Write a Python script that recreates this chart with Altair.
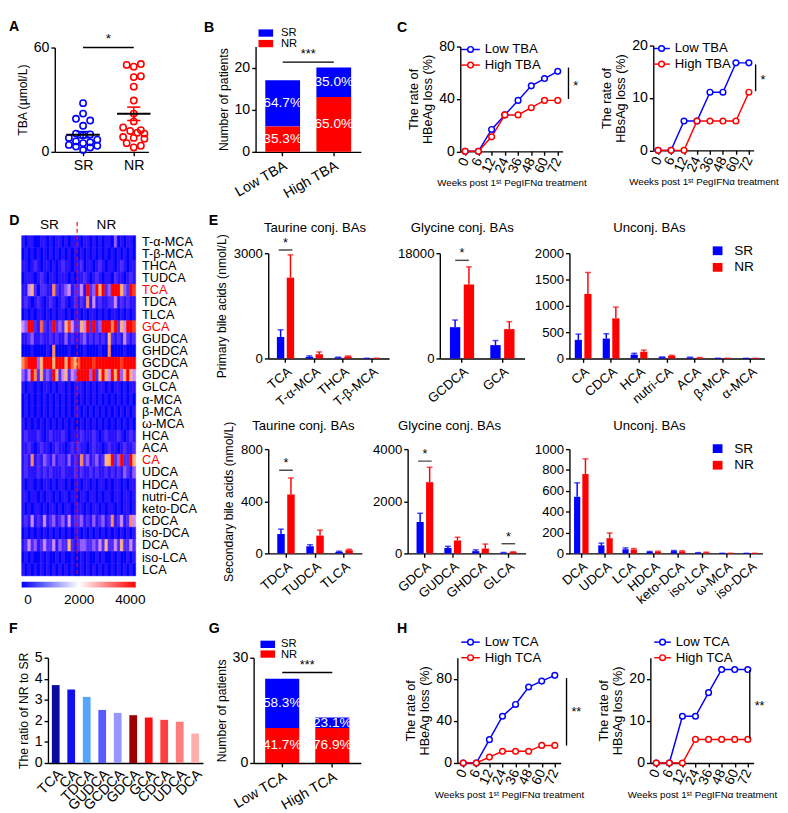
import altair as alt
import pandas as pd

FONT = "Liberation Sans, Arial, Helvetica, sans-serif"
BLUE = "#0000ff"
RED = "#ff0000"

# ======================= DATA =======================
# A: TBA per patient (µmol/L) and beeswarm slot
a_sr_values = [28, 22, 19, 18, 15, 10.5, 10, 9.5, 8, 7, 6, 5.5, 5, 4, 3.5, 3, 2.5, 1]
a_sr_slots = [0, 0, -1, 1, 0, -1, 1, 0, -2, 2, -1, 1, 0, -2, 2, -1, 1, 0]
a_nr_values = [50, 49, 50.5, 43, 43.5, 37.5, 29.5, 22, 17.5, 14, 12.5, 12, 11, 10.5, 8.5, 8, 7.5, 5, 3.5, 2.5]
a_nr_slots = [-1, 0, 1, 0, 1, 0, 0, 0, 0, -1.5, 1, -0.5, 0.5, 1.5, -1.5, 0, 1.5, -1, 1, 0]

# B: patients by TBA level
b_groups = ["Low TBA", "High TBA"]
b_sr = [11, 7]
b_nr = [6, 13]

# C / H: loss rates over weeks
weeks = ["0", "6", "12", "24", "36", "48", "60", "72"]
c_hbeag_low = [0, 0, 16.7, 27.8, 38.9, 50.0, 55.6, 61.1]
c_hbeag_high = [0, 0, 11.1, 27.8, 27.8, 33.3, 38.9, 38.9]
c_hbsag_low = [0, 0, 5.6, 5.6, 11.1, 11.1, 16.7, 16.7]
c_hbsag_high = [0, 0, 0, 5.6, 5.6, 5.6, 5.6, 11.1]
h_hbeag_low = [0, 0, 22.2, 44.4, 55.6, 72.2, 77.8, 83.3]
h_hbeag_high = [0, 0, 5.6, 11.1, 11.1, 11.1, 16.7, 16.7]
h_hbsag_low = [0, 0, 11.1, 11.1, 16.7, 22.2, 22.2, 22.2]
h_hbsag_high = [0, 0, 0, 5.6, 5.6, 5.6, 5.6, 5.6]

# D: heatmap (levels 0-9 per patient, 18 SR then 19 NR)
hm_rows = ["T-α-MCA", "T-β-MCA", "THCA", "TUDCA", "TCA", "TDCA", "TLCA", "GCA", "GUDCA",
           "GHDCA", "GCDCA", "GDCA", "GLCA", "α-MCA", "β-MCA", "ω-MCA", "HCA", "ACA", "CA",
           "UDCA", "HDCA", "nutri-CA", "keto-DCA", "CDCA", "iso-DCA", "DCA", "iso-LCA", "LCA"]
hm_sr = ["101100110101101011", "010101010101010101", "110121011010121101", "011101210110111010",
         "114520221162123412", "121012101210121012", "010101101010110101", "439921721292325842",
         "112311211212113121", "000100001060000100", "689993599959995975", "324962523295245243",
         "101101011010110101", "010101010101010101", "010101010101010101", "101010101010101010",
         "121112101211121011", "112101211012110121", "121612132131221312", "121112121211121112",
         "101101011010110101", "110110101101011011", "101011010110101101", "121412141231231412",
         "010101010101010101", "124231242241322521", "010100101001010010", "101010101010101010"]
hm_nr = ["1011010101103010110", "0101010101010101010", "1201101210110121011", "1121012101102110121",
         "2419239592399953298", "1216141211224121211", "1010110101011010101", "2549292399969254998",
         "1231212121521214212", "0010000100600001000", "7999989999999989999", "9999392595495935954",
         "1101010110101101011", "0101010101010101010", "1010101010101010101", "0101010101010101010",
         "1211121012111210121", "2110121101211012112", "1623123125592392295", "1211212112121213213",
         "1011010110101101011", "0110110101101101101", "1101011010110101101", "2312131231261241264",
         "1010101010101010101", "2332232425224252242", "0101001010010100101", "0101010101010101010"]
hm_level_values = [0, 100, 300, 800, 1300, 2000, 2600, 3100, 3600, 4000]
hm_red_labels = ["TCA", "GCA", "CA"]
cbar_ticks = [0, 2000, 4000]

# E: mean and SEM (nmol/L)
e1_cats = ["TCA", "T-α-MCA", "THCA", "T-β-MCA"]
e1_sr, e1_sr_sem = [613, 46, 28, 3], [204, 28, 9, 2]
e1_nr, e1_nr_sem = [2303, 121, 56, 5], [650, 65, 18, 2]
e2_cats = ["GCDCA", "GCA"]
e2_sr, e2_sr_sem = [5350, 2285], [1227, 780]
e2_nr, e2_nr_sem = [12653, 5016], [3010, 1282]
e3_cats = ["CA", "CDCA", "HCA", "nutri-CA", "ACA", "β-MCA", "α-MCA"]
e3_sr, e3_sr_sem = [354, 378, 73, 24, 18, 3, 2], [109, 92, 25, 6, 6, 1, 1]
e3_nr, e3_nr_sem = [1226, 762, 128, 49, 12, 3, 2], [408, 214, 31, 12, 6, 1, 1]
e4_cats = ["TDCA", "TUDCA", "TLCA"]
e4_sr, e4_sr_sem = [149, 55, 12], [37, 12, 5]
e4_nr, e4_nr_sem = [452, 137, 25], [127, 42, 7]
e5_cats = ["GDCA", "GUDCA", "GHDCA", "GLCA"]
e5_sr, e5_sr_sem = [1205, 211, 87, 25], [335, 62, 50, 12]
e5_nr, e5_nr_sem = [2733, 497, 186, 50], [571, 124, 174, 12]
e6_cats = ["DCA", "UDCA", "LCA", "HDCA", "keto-DCA", "iso-LCA", "ω-MCA", "iso-DCA"]
e6_sr, e6_sr_sem = [543, 78, 40, 16, 22, 6, 1, 1], [134, 21, 13, 3, 6, 2, 0.5, 0.5]
e6_nr, e6_nr_sem = [761, 146, 37, 16, 19, 9, 1, 1], [146, 50, 10, 6, 6, 3, 0.5, 0.5]

# F: ratio NR / SR
f_cats = ["TCA", "CA", "TDCA", "GUDCA", "GCDCA", "GDCA", "GCA", "CDCA", "UDCA", "DCA"]
f_vals = [3.70, 3.49, 3.14, 2.52, 2.38, 2.27, 2.16, 2.05, 1.96, 1.40]
f_colors = ["#0a0a9c", "#0f0ff0", "#55a5ff", "#5a5aff", "#9696ff",
            "#9a0000", "#ff1010", "#ff4040", "#ff7c7c", "#ffaeae"]

# G: patients by TCA level
g_groups = ["Low TCA", "High TCA"]
g_sr = [14, 3]
g_nr = [10, 10]

TICK = 14.5
TICK_C = 14
TICK_E = 13.5
TITLE = 12.5
LETTER = 14.5


# ======================= HELPERS =======================
def ann():
    return pd.DataFrame({"t": [""]})


def text_at(s, x, y, size=13, align="left", baseline="middle", color="black", weight="normal"):
    return alt.Chart(pd.DataFrame({"t": [s]})).mark_text(
        align=align, baseline=baseline, fontSize=size, font=FONT, color=color, fontWeight=weight
    ).encode(text="t:N", x=alt.value(x), y=alt.value(y))


def letter(s, x, y):
    return text_at(s, x, y, size=LETTER, baseline="top", weight="bold")


def square(x1, x2, y1, y2, color):
    return alt.Chart(ann()).mark_rect(color=color).encode(
        x=alt.value(x1), x2=alt.value(x2), y=alt.value(y1), y2=alt.value(y2))


def frame(ox, oy, ax1, ax2, ay1, ay2):
    # invisible cell that fixes the layout box of a panel (figure coords -> panel coords)
    return alt.Chart(ann()).mark_rect(opacity=0).encode(
        x=alt.value(ax1 - ox), x2=alt.value(ax2 - ox), y=alt.value(ay1 - oy), y2=alt.value(ay2 - oy))


def spacer():
    return alt.Chart(ann()).mark_rect(opacity=0).encode(
        x=alt.value(0), x2=alt.value(1), y=alt.value(0), y2=alt.value(1)).properties(width=1, height=1)


def wrap(p):
    return alt.vconcat(spacer(), p, spacing=0)


def line_key(x1, x2, y, color):
    r = square(x1, x2, y - 0.75, y + 0.75, color)
    w = alt.Chart(ann()).mark_point(shape="circle", filled=True, color="white", size=34, opacity=1).encode(
        x=alt.value((x1 + x2) / 2), y=alt.value(y))
    p = alt.Chart(ann()).mark_point(shape="circle", filled=False, color=color, size=34,
                                    strokeWidth=1.5, opacity=1).encode(
        x=alt.value((x1 + x2) / 2), y=alt.value(y))
    return [r, w, p]


# ======================= PANEL A =======================
A_OX, A_OY, A_W, A_H = 51, 30.7, 96, 107
a_df = pd.DataFrame({
    "gi": [0] * len(a_sr_values) + [1] * len(a_nr_values),
    "v": a_sr_values + a_nr_values,
    "slot": a_sr_slots + a_nr_slots,
    "col": [BLUE] * len(a_sr_values) + [RED] * len(a_nr_values),
})
a_xs = alt.Scale(domain=[-0.558, 1.288], nice=False, zero=False)
a_xa = alt.Axis(values=[0, 1], labelExpr="datum.value == 0 ? 'SR' : 'NR'", title=None,
                labelFontSize=TICK, labelPadding=3)
a_ys = alt.Scale(domain=[0, 60], nice=False)
a_ya = alt.Axis(values=[0, 20, 40, 60], title="TBA (µmol/L)", titleFontSize=TITLE, labelFontSize=TICK)
ab = alt.Chart(a_df)
a_pts = ab.transform_calculate(xp="datum.gi + datum.slot * 0.14").mark_point(
    shape="circle", filled=False, size=42, strokeWidth=1.6, opacity=1
).encode(x=alt.X("xp:Q", scale=a_xs, axis=a_xa), y=alt.Y("v:Q", scale=a_ys, axis=a_ya),
         color=alt.Color("col:N", scale=None))
a_st = ab.transform_aggregate(m="mean(v)", se="stderr(v)", groupby=["gi", "col"]).transform_calculate(
    xl="datum.gi - 0.33", xr="datum.gi + 0.33", cl="datum.gi - 0.13", cr="datum.gi + 0.13",
    lo="datum.m - datum.se", hi="datum.m + datum.se")
a_sem = a_st.mark_rule(strokeWidth=1.6).encode(
    x=alt.X("gi:Q", scale=a_xs, axis=a_xa), y=alt.Y("lo:Q", scale=a_ys, axis=a_ya), y2="hi:Q",
    color=alt.Color("col:N", scale=None))
a_cap_hi = a_st.mark_rule(strokeWidth=1.6).encode(
    x=alt.X("cl:Q", scale=a_xs, axis=a_xa), x2="cr:Q", y=alt.Y("hi:Q", scale=a_ys, axis=a_ya),
    color=alt.Color("col:N", scale=None))
a_cap_lo = a_st.mark_rule(strokeWidth=1.6).encode(
    x=alt.X("cl:Q", scale=a_xs, axis=a_xa), x2="cr:Q", y=alt.Y("lo:Q", scale=a_ys, axis=a_ya),
    color=alt.Color("col:N", scale=None))
a_mean = a_st.mark_rule(strokeWidth=2, color="black").encode(
    x=alt.X("xl:Q", scale=a_xs, axis=a_xa), x2="xr:Q", y=alt.Y("m:Q", scale=a_ys, axis=a_ya))
a_sig = alt.Chart(ann()).mark_rule(color="black", strokeWidth=1.4).encode(
    x=alt.datum(0), x2=alt.datum(1), y=alt.datum(60))
a_star = alt.Chart(pd.DataFrame({"t": ["*"]})).mark_text(fontSize=14, font=FONT, dy=-9).encode(
    x=alt.datum(0.5), y=alt.datum(60), text="t:N")
A = alt.layer(frame(A_OX, A_OY, 4, 200, 3, 196), a_pts, a_sem, a_cap_hi, a_cap_lo, a_mean, a_sig, a_star,
              letter("A", 4 - A_OX, 3 - A_OY)).properties(width=A_W, height=A_H)


# ======================= STACKED (B, G) =======================
def stack_panel(groups, sr, nr, ydom, yvals, ox, oy, W, H, sig_y, po, let, fx, fy, key_x, key_y, key_tx):
    df = pd.DataFrame({"cond": groups + groups, "grp": ["SR", "SR", "NR", "NR"],
                       "n": sr + nr, "col": [BLUE, BLUE, RED, RED]})
    base = alt.Chart(df).transform_joinaggregate(total="sum(n)", groupby=["cond"]).transform_calculate(
        pct="format(100 * datum.n / datum.total, '.1f') + '%'",
        ord="datum.grp == 'NR' ? 0 : 1"
    ).transform_stack(stack="n", groupby=["cond"], as_=["y0", "y1"],
                      sort=[alt.SortField(field="ord", order="ascending")]
    ).transform_calculate(mid="(datum.y0 + datum.y1) / 2")
    xs = alt.Scale(paddingInner=0.32, paddingOuter=po)
    xa = alt.Axis(title=None, labelAngle=-30, labelAlign="right", labelBaseline="top",
                  labelFontSize=TICK, labelPadding=3)
    ys = alt.Scale(domain=ydom, nice=False)
    ya = alt.Axis(values=yvals, title="Number of patients", titleFontSize=TITLE, labelFontSize=TICK)
    X = alt.X("cond:N", sort=groups, scale=xs, axis=xa)
    bars = base.mark_bar().encode(x=X, y=alt.Y("y0:Q", scale=ys, axis=ya), y2="y1:Q",
                                  color=alt.Color("col:N", scale=None))
    labels = base.mark_text(color="white", fontSize=14, font=FONT).encode(
        x=X, y=alt.Y("mid:Q", scale=ys, axis=ya), text="pct:N")
    sig = alt.Chart(ann()).mark_rule(color="black", strokeWidth=1.4).encode(
        x=alt.datum(groups[0]), x2=alt.datum(groups[1]), y=alt.datum(sig_y))
    star = alt.Chart(pd.DataFrame({"t": ["***"]})).mark_text(fontSize=13, font=FONT, dy=-8).encode(
        x=alt.value(W / 2), y=alt.datum(sig_y), text="t:N")
    layers = [frame(ox, oy, *fx, *fy), bars, labels, sig, star,
              square(key_x, key_x + 15, key_y[0], key_y[0] + 7.5, BLUE),
              square(key_x, key_x + 15, key_y[1], key_y[1] + 7.5, RED),
              text_at("SR", key_tx, key_y[0] + 3.5, size=11.5),
              text_at("NR", key_tx, key_y[1] + 4.5, size=11.5),
              letter(let, fx[0] + 4 - ox, fy[0] + (0 if fy[0] < 10 else 12) - oy)]
    return alt.layer(*layers).properties(width=W, height=H)


B = stack_panel(b_groups, b_sr, b_nr, [0, 25], [0, 5, 10, 15, 20, 25], 257, 29.3, 108, 108, 21.3, 0.19,
                "B", (200, 398), (3, 196), 3, (-17.6, -6.8), 26)
G = stack_panel(g_groups, g_sr, g_nr, [0, 30], [0, 10, 20, 30], 255, 654, 110, 108, 25.8, 0.23,
                "G", (205, 398), (606, 806), 7, (-17.5, -7.5), 28)


# ======================= LINE PANELS (C, H) =======================
def line_panel(low, high, names, ydom, yvals, ytitle2, ox, oy, W, H, fx, fy, sig, sig_x, star_v, stars,
               key_x, key_w, key_y, pad, xtitle, let=None):
    xs = alt.Scale(type="point", padding=pad)
    xa = alt.Axis(title=xtitle, titleFontSize=10, titleFontWeight="normal", labelAngle=-65,
                  labelAlign="right", labelBaseline="middle", labelFontSize=TICK_C, labelPadding=3,
                  titlePadding=3)
    ys = alt.Scale(domain=ydom, nice=False)
    ya = alt.Axis(values=yvals, title=["The rate of", ytitle2], titleFontSize=TITLE + 0.5,
                  labelFontSize=TICK, titleLineHeight=15)
    X = alt.X("week:O", sort=weeks, scale=xs, axis=xa)
    Y = alt.Y("rate:Q", scale=ys, axis=ya)
    layers = [frame(ox, oy, *fx, *fy)]
    series = [(low, BLUE), (high, RED)]
    for vals, col in series:
        sdf = pd.DataFrame({"week": weeks, "rate": vals})
        layers.append(alt.Chart(sdf).mark_line(color=col, strokeWidth=1.5).encode(x=X, y=Y))
    for vals, col in series:
        sdf = pd.DataFrame({"week": weeks, "rate": vals})
        layers.append(alt.Chart(sdf).mark_point(shape="circle", filled=True, color="white", size=34,
                                                opacity=1).encode(x=X, y=Y))
        layers.append(alt.Chart(sdf).mark_point(shape="circle", filled=False, color=col, size=34,
                                                strokeWidth=1.5, opacity=1).encode(x=X, y=Y))
    layers.append(alt.Chart(ann()).mark_rule(color="black", strokeWidth=1.4).encode(
        x=alt.value(sig_x), y=alt.datum(sig[0]), y2=alt.datum(sig[1])))
    layers.append(alt.Chart(pd.DataFrame({"t": [stars]})).mark_text(
        fontSize=13, font=FONT, align="left", baseline="middle", dy=3).encode(
        x=alt.value(sig_x + 5), y=alt.datum(star_v), text="t:N"))
    for i, (nm, col) in enumerate(zip(names, [BLUE, RED])):
        layers += line_key(key_x, key_x + key_w, key_y[i], col)
        layers.append(text_at(nm, key_x + key_w + 5, key_y[i], size=13.5))
    if let:
        layers.append(letter(let, fx[0] + 4 - ox, fy[0] + (0 if fy[0] < 10 else 12) - oy))
    return alt.layer(*layers).properties(width=W, height=H)


XT1 = "Weeks post 1ˢᵗ PegIFNα treatment"
XT2 = "Weeks post 1ˢᵗ PegIFNα  treatment"
C1 = line_panel(c_hbeag_low, c_hbeag_high, ["Low TBA", "High TBA"], [0, 80], [0, 20, 40, 60, 80],
                "HBeAg loss (%)", 467, 29.3, 105, 107.5, (398, 600), (3, 196), (64, 40), 111, 52, "*",
                1, 19, [3, 19], 0.37, XT1, "C")
C2 = line_panel(c_hbsag_low, c_hbsag_high, ["Low TBA", "High TBA"], [0, 20], [0, 5, 10, 15, 20],
                "HBsAg loss (%)", 665, 29.3, 103, 107.5, (600, 783), (3, 196), (16.4, 11.3), 105, 13.9, "*",
                0, 17, [3, 19], 0.37, XT2)
H1 = line_panel(h_hbeag_low, h_hbeag_high, ["Low TCA", "High TCA"], [0, 100], [0, 20, 40, 60, 80, 100],
                "HBeAg loss (%)", 464, 654, 106, 108, (398, 600), (606, 806), (80.7, 16.5), 112, 51, "**",
                4, 19, [-16, 0], 0.45, XT2, "H")
H2 = line_panel(h_hbsag_low, h_hbsag_high, ["Low TCA", "High TCA"], [0, 25], [0, 5, 10, 15, 20, 25],
                "HBsAg loss (%)", 662, 654, 106, 108, (600, 783), (606, 806), (22.1, 5.8), 102, 14.3, "**",
                4, 17, [-16, 0], 0.45, XT2)

# ======================= PANEL D =======================
hm_records = []
for r, name in enumerate(hm_rows):
    s = hm_sr[r][:18].ljust(18, "0") + hm_nr[r][:19].ljust(19, "0")
    for c, ch in enumerate(s):
        hm_records.append({"row": name, "c": c, "v": hm_level_values[int(ch)]})
hm_df = pd.DataFrame(hm_records)
D_OX, D_OY, HM_W, HM_H = 16.7, 222, 117, 349
hm_scale = alt.Scale(domain=[0, 2000, 4000], range=[BLUE, "#ffffff", RED], clamp=True)
hm_xs = alt.Scale(domain=[0, 37], nice=False, zero=False)
label_color = {"condition": {"test": "indexof(%s, datum.value) >= 0" % str(hm_red_labels),
                             "value": RED}, "value": "black"}
heat = alt.Chart(hm_df).transform_calculate(c2="datum.c + 1").mark_rect(strokeWidth=0.5).encode(
    x=alt.X("c:Q", scale=hm_xs, axis=None), x2="c2:Q",
    y=alt.Y("row:N", sort=hm_rows, axis=alt.Axis(orient="right", title=None, ticks=False, domain=False,
                                                 labelFontSize=13, labelPadding=6,
                                                 labelColor=label_color)),
    color=alt.Color("v:Q", scale=hm_scale, legend=None),
    stroke=alt.Stroke("v:Q", scale=hm_scale, legend=None))
hm_div = alt.Chart(ann()).mark_rule(color=RED, strokeDash=[4, 3], strokeWidth=1.2).encode(
    x=alt.datum(18), y=alt.value(-14), y2=alt.value(HM_H))
hm_sr_t = alt.Chart(pd.DataFrame({"t": ["SR"]})).mark_text(fontSize=14, font=FONT).encode(
    x=alt.datum(9), y=alt.value(-11), text="t:N")
hm_nr_t = alt.Chart(pd.DataFrame({"t": ["NR"]})).mark_text(fontSize=14, font=FONT).encode(
    x=alt.datum(27.5), y=alt.value(-11), text="t:N")
D_heat = alt.layer(frame(D_OX, D_OY, 4, 205, 196, 574), heat, hm_div, hm_sr_t, hm_nr_t,
                   letter("D", 4 - D_OX, 200 - D_OY)).properties(width=HM_W, height=HM_H)
cb_axis_layer = alt.Chart(pd.DataFrame({"tick": cbar_ticks})).mark_tick(opacity=0).encode(
    x=alt.X("tick:Q", scale=alt.Scale(domain=[0, 4000], range=[6, 111], nice=False),
            axis=alt.Axis(values=cbar_ticks, format="d", ticks=False, domain=False, title=None,
                          labelFontSize=14, labelPadding=5, labelFlush=False)))
cb_rect = alt.Chart(ann()).mark_rect(
    color=alt.LinearGradient(gradient="linear",
                             stops=[alt.GradientStop(color=BLUE, offset=0),
                                    alt.GradientStop(color="#ffffff", offset=0.5),
                                    alt.GradientStop(color=RED, offset=1)],
                             x1=0, x2=1, y1=0, y2=0)
).encode(x=alt.value(0), x2=alt.value(HM_W), y=alt.value(0), y2=alt.value(6))
cbar = alt.layer(frame(D_OX, 577, 4, 205, 574, 606), cb_rect, cb_axis_layer).properties(width=HM_W, height=6)
D = alt.vconcat(D_heat, cbar, spacing=0)


# ======================= PANEL E =======================
def e_panel(cats, sr, sr_sem, nr, nr_sem, ox, oy, W, H, fx, fy, ydom, yvals, title, title_x, title_y, po,
            ytitle=None, sigs=(), legend_y=None, let=None):
    n = len(cats)
    df = pd.DataFrame({"cat": cats + cats, "grp": ["SR"] * n + ["NR"] * n,
                       "mean": sr + nr, "sem": sr_sem + nr_sem, "col": [BLUE] * n + [RED] * n})
    base = alt.Chart(df).transform_calculate(hi="datum.mean + datum.sem")
    xs = alt.Scale(paddingInner=0.4, paddingOuter=po)
    xa = alt.Axis(title=None, labelAngle=-40, labelAlign="right", labelBaseline="top",
                  labelFontSize=TICK_E, labelPadding=2)
    X = alt.X("cat:N", sort=cats, scale=xs, axis=xa)
    XO = alt.XOffset("grp:N", sort=["SR", "NR"], scale=alt.Scale(paddingInner=0.25))
    ys = alt.Scale(domain=ydom, nice=False)
    ya = alt.Axis(values=yvals, format="d", title=ytitle, titleFontSize=TITLE, labelFontSize=TICK_E,
                  titlePadding=5)
    bars = base.mark_bar().encode(x=X, xOffset=XO, y=alt.Y("mean:Q", scale=ys, axis=ya),
                                  color=alt.Color("col:N", scale=None))
    err = base.mark_rule(strokeWidth=1.5).encode(x=X, xOffset=XO, y=alt.Y("mean:Q", scale=ys, axis=ya),
                                                 y2="hi:Q", color=alt.Color("col:N", scale=None))
    cap = base.mark_tick(thickness=1.5, size=6).encode(x=X, xOffset=XO,
                                                       y=alt.Y("hi:Q", scale=ys, axis=ya),
                                                       color=alt.Color("col:N", scale=None))
    layers = [frame(ox, oy, *fx, *fy), err, cap, bars]
    for cat, v in sigs:
        layers.append(alt.Chart(ann()).mark_tick(thickness=1.5, size=14, color="black").encode(
            x=alt.datum(cat), y=alt.datum(v)))
        layers.append(alt.Chart(pd.DataFrame({"t": ["*"]})).mark_text(fontSize=13, font=FONT, dy=-7).encode(
            x=alt.datum(cat), y=alt.datum(v), text="t:N"))
    layers.append(text_at(title, title_x, title_y, size=13.5, align="center"))
    if legend_y is not None:
        layers += [square(147, 157, legend_y, legend_y + 9, BLUE),
                   square(147, 157, legend_y + 17, legend_y + 26, RED),
                   text_at("SR", 169, legend_y + 4.5, size=14),
                   text_at("NR", 169, legend_y + 21.5, size=14)]
    if let:
        layers.append(letter(let, fx[0] + 3 - ox, fy[0] + 4 - oy))
    return alt.layer(*layers).properties(width=W, height=H)


E1 = e_panel(e1_cats, e1_sr, e1_sr_sem, e1_nr, e1_nr_sem, 269, 240, 124, 108, (205, 400), (196, 400),
             [0, 3000], [0, 1000, 2000, 3000], "Taurine conj. BAs", 48, -26, 0.3,
             ytitle="Primary bile acids (nmol/L)", sigs=[("TCA", 3092)], let="E")
E2 = e_panel(e2_cats, e2_sr, e2_sr_sem, e2_nr, e2_nr_sem, 445, 240, 87, 108, (400, 540), (196, 400),
             [0, 18000], [0, 6000, 12000, 18000], "Glycine conj. BAs", 23, -26, 0.25,
             sigs=[("GCDCA", 16780)])
E3 = e_panel(e3_cats, e3_sr, e3_sr_sem, e3_nr, e3_nr_sem, 578, 240, 200, 108, (540, 783), (196, 400),
             [0, 2000], [0, 500, 1000, 1500, 2000], "Unconj. BAs", 82, -26, 0.19, legend_y=-7)
E4 = e_panel(e4_cats, e4_sr, e4_sr_sem, e4_nr, e4_nr_sem, 269, 441, 96, 107, (205, 372), (400, 606),
             [0, 800], [0, 200, 400, 600, 800], "Taurine conj. BAs", 36, -24, 0.31,
             ytitle="Secondary bile acids (nmol/L)", sigs=[("TDCA", 638)])
E5 = e_panel(e5_cats, e5_sr, e5_sr_sem, e5_nr, e5_nr_sem, 412, 441, 121, 107, (372, 540), (400, 606),
             [0, 4000], [0, 1000, 2000, 3000, 4000], "Glycine conj. BAs", 43, -24, 0.32,
             sigs=[("GDCA", 3540), ("GLCA", 373)])
E6 = e_panel(e6_cats, e6_sr, e6_sr_sem, e6_nr, e6_nr_sem, 578, 441, 198, 107, (540, 783), (400, 606),
             [0, 1000], [0, 200, 400, 600, 800, 1000], "Unconj. BAs", 82, -24, 0.19, legend_y=-5)

E_top = alt.hconcat(E1, E2, E3, spacing=0).resolve_scale(xOffset="independent")
E_bot = alt.hconcat(E4, E5, E6, spacing=0).resolve_scale(xOffset="independent")
E = alt.vconcat(E_top, E_bot, spacing=0)

# ======================= PANEL F =======================
F_OX, F_OY = 44, 654
f_df = pd.DataFrame({"cat": f_cats, "v": f_vals, "col": f_colors})
F = alt.layer(
    frame(F_OX, F_OY, 4, 205, 606, 806),
    alt.Chart(f_df).mark_bar().encode(
        x=alt.X("cat:N", sort=f_cats, scale=alt.Scale(paddingInner=0.5, paddingOuter=0.25),
                axis=alt.Axis(title=None, labelAngle=-45, labelAlign="right", labelBaseline="top",
                              ticks=False, labelFontSize=TICK, labelPadding=4)),
        y=alt.Y("v:Q", scale=alt.Scale(domain=[0, 5], nice=False),
                axis=alt.Axis(values=[0, 1, 2, 3, 4, 5], title="The ratio of NR to SR",
                              titleFontSize=TITLE, labelFontSize=TICK)),
        color=alt.Color("col:N", scale=None)),
    letter("F", 4 - F_OX, 618 - F_OY)
).properties(width=159, height=108)

# ======================= ASSEMBLY =======================
row1 = alt.hconcat(spacer(), wrap(A), wrap(B), wrap(C1), wrap(C2), spacing=0)
row2 = alt.hconcat(spacer(), wrap(D), wrap(E), spacing=0)
row3 = alt.hconcat(spacer(), wrap(F), wrap(G), wrap(H1), wrap(H2), spacing=0)

chart = alt.vconcat(row1, row2, row3, spacing=0).properties(
    padding=0
).configure_view(stroke=None).configure_axis(
    labelFont=FONT, titleFont=FONT, labelColor="black", titleColor="black",
    domainColor="black", tickColor="black", domainWidth=1.4, tickWidth=1.4, tickSize=4,
    grid=False, titleFontWeight="normal", labelFontSize=13, titleFontSize=13
)

chart.save("out.html", embed_options={"renderer": "svg", "actions": False})
